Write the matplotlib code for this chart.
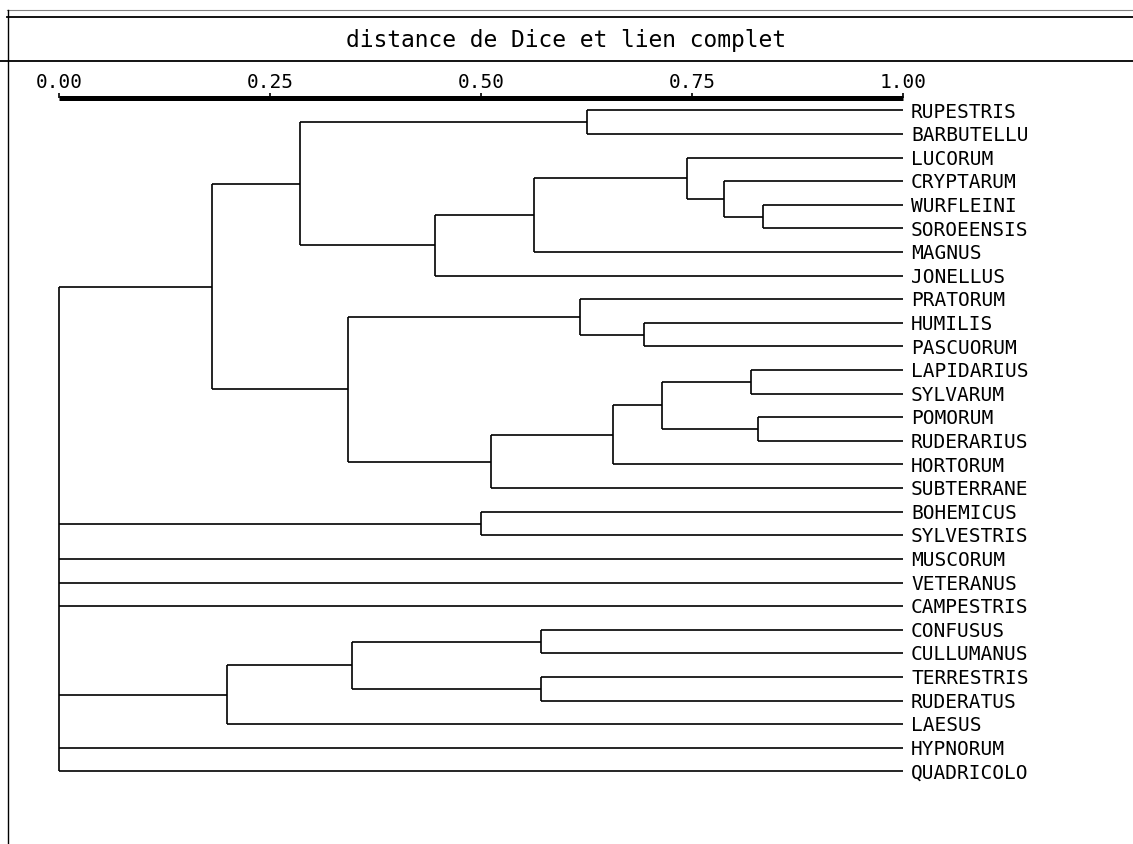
import matplotlib
matplotlib.use("Agg")
import matplotlib.pyplot as plt
from matplotlib.lines import Line2D

# feuilles du dendrogramme, de haut en bas
leaves = ["RUPESTRIS", "BARBUTELLU", "LUCORUM", "CRYPTARUM", "WURFLEINI",
          "SOROEENSIS", "MAGNUS", "JONELLUS", "PRATORUM", "HUMILIS",
          "PASCUORUM", "LAPIDARIUS", "SYLVARUM", "POMORUM", "RUDERARIUS",
          "HORTORUM", "SUBTERRANE", "BOHEMICUS", "SYLVESTRIS", "MUSCORUM",
          "VETERANUS", "CAMPESTRIS", "CONFUSUS", "CULLUMANUS", "TERRESTRIS",
          "RUDERATUS", "LAESUS", "HYPNORUM", "QUADRICOLO"]

# fusions : (nom du noeud, enfants, niveau sur l'axe 0..1)
merge_names = ["n1", "n2", "n3", "n4", "n5", "n6", "n7", "n8", "n9", "n10",
               "n11", "n12", "n13", "n14", "n15", "n16", "n17", "n18", "n19",
               "n20", "n21", "root"]
merge_children = [
    ["RUPESTRIS", "BARBUTELLU"],
    ["WURFLEINI", "SOROEENSIS"],
    ["CRYPTARUM", "n2"],
    ["LUCORUM", "n3"],
    ["n4", "MAGNUS"],
    ["n5", "JONELLUS"],
    ["n1", "n6"],
    ["HUMILIS", "PASCUORUM"],
    ["PRATORUM", "n8"],
    ["LAPIDARIUS", "SYLVARUM"],
    ["POMORUM", "RUDERARIUS"],
    ["n10", "n11"],
    ["n12", "HORTORUM"],
    ["n13", "SUBTERRANE"],
    ["n9", "n14"],
    ["n7", "n15"],
    ["BOHEMICUS", "SYLVESTRIS"],
    ["CONFUSUS", "CULLUMANUS"],
    ["TERRESTRIS", "RUDERATUS"],
    ["n18", "n19"],
    ["n20", "LAESUS"],
    ["n16", "n17", "MUSCORUM", "VETERANUS", "CAMPESTRIS", "n21",
     "HYPNORUM", "QUADRICOLO"],
]
merge_levels = [0.626, 0.834, 0.788, 0.744, 0.563, 0.446, 0.285, 0.693,
                0.617, 0.820, 0.828, 0.714, 0.656, 0.512, 0.343, 0.181,
                0.500, 0.571, 0.571, 0.347, 0.199, 0.0]

tick_values = [0.0, 0.25, 0.5, 0.75, 1.0]
tick_labels = ["0.00", "0.25", "0.50", "0.75", "1.00"]
title = "distance de Dice et lien complet"

W, H = 1133, 844
FONT = "DejaVu Sans Mono"

# mise en page en pixels
x0_px, x1_px = 59, 903          # position de 0.00 et 1.00
row0_px, row_px = 110.5, 23.6   # premiere feuille et pas vertical
bar_px = 97.5                   # barre de l'echelle


def fx(px):
    return px / W


def fy(py):
    return 1 - py / H


fig = plt.figure(figsize=(W / 100, H / 100), dpi=100, facecolor="white")

# cadre et titre
fig.add_artist(Line2D([fx(7), 1], [fy(10), fy(10)], color="#808080", lw=0.8))
fig.add_artist(Line2D([fx(7), 1], [fy(17), fy(17)], color="black", lw=1.3))
fig.add_artist(Line2D([0, 1], [fy(61), fy(61)], color="black", lw=1.3))
fig.add_artist(Line2D([fx(7.5), fx(7.5)], [fy(10), 0], color="black", lw=1.0))
fig.text(0.5, fy(40), title, ha="center", va="center",
         family=FONT, fontsize=16.5)

# zone du dendrogramme : le haut de l'axe porte la barre de l'echelle
ax = fig.add_axes((0, 0, 1, fy(bar_px)))
unit = x1_px - x0_px
ax.set_xlim(-x0_px / unit, (W - x0_px) / unit)
ax.set_ylim((H - row0_px) / row_px, (bar_px - row0_px) / row_px)
ax.set_facecolor("none")

for side in ["left", "right", "bottom"]:
    ax.spines[side].set_visible(False)
ax.spines["top"].set_bounds(0, 1)
ax.spines["top"].set_linewidth(3.6)
ax.spines["top"].set_capstyle("butt")
ax.set_yticks([])
ax.xaxis.tick_top()
ax.set_xticks(tick_values)
ax.set_xticklabels(tick_labels, family=FONT, fontsize=14)
ax.tick_params(axis="x", direction="out", length=3.8, width=1.2, pad=0.3)

# positions des noeuds
ypos = {name: i for i, name in enumerate(leaves)}
level = {name: 1.0 for name in leaves}
for name, kids, h in zip(merge_names, merge_children, merge_levels):
    ys = [ypos[k] for k in kids]
    ypos[name] = (min(ys) + max(ys)) / 2
    level[name] = h
    ax.plot([h, h], [min(ys), max(ys)], color="black", lw=1.2,
            solid_capstyle="butt")
    for k in kids:
        ax.plot([h, level[k]], [ypos[k], ypos[k]], color="black", lw=1.2,
                solid_capstyle="butt")

# etiquettes des feuilles
cap = 0.729 * 14
for name in leaves:
    ax.annotate(name, (1.0, ypos[name]), xytext=(5.8, -cap / 2),
                textcoords="offset points", ha="left", va="baseline",
                family=FONT, fontsize=14)

fig.savefig("out.png", dpi=100, facecolor="white")
